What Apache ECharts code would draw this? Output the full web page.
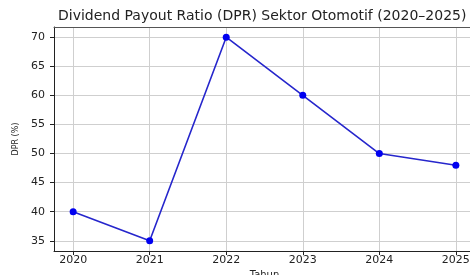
<!DOCTYPE html>
<html lang="en">
<head>
    <meta charset="UTF-8">
    <title>DPR Sektor Otomotif</title>
    <script src="https://cdn.jsdelivr.net/npm/echarts@6/dist/echarts.min.js"></script>
    <style>
        html, body { margin: 0; padding: 0; background: #fff; }
        #chart { width: 470px; height: 275px; }
    </style>
</head>
<body>
    <div id="chart"></div>
    <script type="text/javascript">
        var years = [2020, 2021, 2022, 2023, 2024, 2025]
        var dpr = [40, 35, 70, 60, 50, 48]
        var yTicks = [35, 40, 45, 50, 55, 60, 65, 70]

        var chart = echarts.init(document.getElementById('chart'))
        var font = 'DejaVu Sans'

        var points = years.map((y, i) => [y, dpr[i]])

        chart.setOption({
            animation: false,
            textStyle: { fontFamily: font },
            title: {
                text: 'Dividend Payout Ratio (DPR) Sektor Otomotif (2020–2025)',
                left: 58,
                top: 9,
                padding: 0,
                textStyle: { fontFamily: font, fontSize: 14, fontWeight: 'normal', color: '#222' }
            },
            grid: { left: 54, right: -5, top: 27, bottom: 24, outerBoundsMode: 'none', containLabel: false },
            xAxis: [{
                type: 'value',
                min: 2019.75,
                max: 2025.25,
                name: 'Tahun',
                nameLocation: 'middle',
                nameGap: 14,
                nameTextStyle: { fontSize: 10, color: '#222' },
                axisLine: { lineStyle: { color: '#222', width: 1 } },
                axisTick: { customValues: years, length: 4, lineStyle: { color: '#222' } },
                axisLabel: { customValues: years, fontSize: 11, color: '#222', margin: 4, formatter: v => String(v) },
                splitLine: { show: true, lineStyle: { color: '#cfcfcf', width: 1 } }
            }, {
                type: 'value',
                position: 'top',
                min: 2019.75,
                max: 2025.25,
                axisLine: { lineStyle: { color: '#555', width: 1 } },
                axisTick: { show: false },
                axisLabel: { show: false },
                splitLine: { show: false }
            }],
            yAxis: {
                type: 'value',
                min: 33.25,
                max: 71.75,
                name: 'DPR (%)',
                nameLocation: 'middle',
                nameGap: 33,
                nameTextStyle: { fontSize: 8, color: '#222' },
                axisLine: { show: true, lineStyle: { color: '#222', width: 1 } },
                axisTick: { show: true, customValues: yTicks, length: 4, lineStyle: { color: '#222' } },
                axisLabel: { customValues: yTicks, fontSize: 11, color: '#222', margin: 9 },
                splitLine: { show: true, lineStyle: { color: '#cfcfcf', width: 1 } }
            },
            series: [{
                type: 'line',
                data: points,
                symbol: 'circle',
                symbolSize: 7,
                itemStyle: { color: '#0000f0' },
                lineStyle: { color: '#2626cc', width: 1.6 }
            }]
        })
    </script>
</body>
</html>
